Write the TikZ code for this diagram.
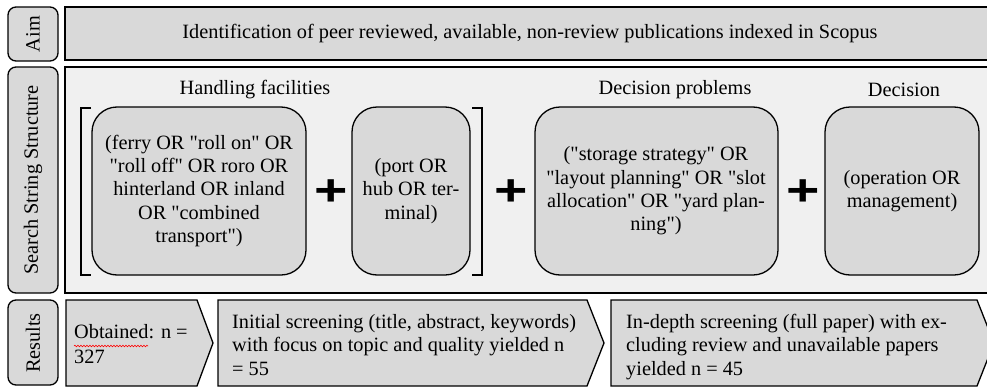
\documentclass[tikz,border=0pt]{standalone}
\usepackage{fontspec}
\setmainfont{Liberation Serif}[Ligatures=TeXOff]
\newfontfamily\plusfont{Liberation Sans}
\usetikzlibrary{decorations.pathmorphing}
\definecolor{boxgray}{HTML}{D9D9D9}
\definecolor{panelgray}{HTML}{F0F0F0}
\begin{document}
\begin{tikzpicture}[x=1pt,y=-1pt,
  basefont/.style={font=\fontsize{20.3}{23.4}\selectfont},
  labelbox/.style={draw=black,line width=1.3pt,fill=boxgray,rounded corners=8pt},
  bar/.style={draw=black,line width=1.4pt,fill=boxgray},
  panel/.style={draw=black,line width=1.4pt,fill=panelgray},
  termbox/.style={draw=black,line width=1.3pt,fill=boxgray,rounded corners=25pt},
  arrowshape/.style={draw=black,line width=1.3pt,fill=boxgray,line join=miter},
  bracketline/.style={draw=black,line width=2.6pt},
  txt/.style={basefont,inner sep=0pt,align=center},
  ltxt/.style={basefont,inner sep=0pt,align=left,anchor=north west},
  vlabel/.style={basefont,inner sep=0pt,rotate=90},
  plussign/.style={inner sep=0pt,font=\plusfont\bfseries\fontsize{44}{44}\selectfont}
]
\useasboundingbox (0,0) rectangle (987,388);
\begin{scope}
\clip (0,0) rectangle (987,388);
% left labels
\draw[labelbox] (8,7) rectangle (58,61);
\node[vlabel] (laim) at (33,34) {Aim};
\draw[labelbox] (8,67) rectangle (58,293);
\node[vlabel] (lsearch) at (33,180) {Search String Structure};
\draw[labelbox] (8,300) rectangle (58,385);
\node[vlabel] (lres) at (33,343) {Results};
% aim bar
\draw[bar] (65,7) rectangle (995,60);
\node[txt] (aim) at (530,34) {Identification of peer reviewed, available, non-review publications indexed in Scopus};
% search panel
\draw[panel] (65,67) rectangle (995,293);
\node[txt] (h1) at (255,90) {Handling facilities};
\node[txt] (h2) at (675,90) {Decision problems};
\node[txt] (h3) at (904,90) {Decision};
% brackets
\draw[bracketline] (91,108) -- (81,108) -- (81,275) -- (91,275);
\draw[bracketline] (472,108) -- (482,108) -- (482,275) -- (472,275);
% term boxes
\draw[termbox] (92,107) rectangle (306,275);
\node[txt] (ta) at (199,191) {(ferry OR "roll on" OR\\"roll off" OR roro OR\\hinterland OR inland\\OR "combined\\transport")};
\draw[termbox] (352,107) rectangle (470,275);
\node[txt] (tb) at (411,191) {(port OR\\hub OR ter-\\minal)};
\draw[termbox] (535,107) rectangle (778,275);
\node[txt] (tc) at (656,191) {("storage strategy" OR\\"layout planning" OR "slot\\allocation" OR "yard plan-\\ning")};
\draw[termbox] (825,107) rectangle (979,275);
\node[txt] (td) at (902,191) {(operation OR\\management)};
% plus signs
\node[plussign,xscale=1.3] (p1) at (331,193) {+};
\node[plussign,xscale=1.3] (p2) at (511,193) {+};
\node[plussign,xscale=1.3] (p3) at (803,193) {+};
% results
\draw[arrowshape] (66,300) -- (197,300) -- (213,343) -- (197,386) -- (66,386) -- cycle;
\node[ltxt,font=\fontsize{20.3}{25.5}\selectfont] (r1) at (74,324) {Obtained: n =\\327};
\draw[red,line width=0.6pt,decorate,decoration={snake,amplitude=0.8pt,segment length=3pt}] (74,346) -- (148,346);
\draw[arrowshape] (218,300) -- (587,300) -- (604,343) -- (587,386) -- (218,386) -- cycle;
\node[ltxt] (r2) at (232,314) {Initial screening (title, abstract, keywords)\\with focus on topic and quality yielded n\\= 55};
\draw[arrowshape] (611,300) -- (977,300) -- (994,343) -- (977,386) -- (611,386) -- cycle;
\node[ltxt] (r3) at (626,314) {In-depth screening (full paper) with ex-\\cluding review and unavailable papers\\yielded n = 45};
\end{scope}
\end{tikzpicture}
\end{document}
